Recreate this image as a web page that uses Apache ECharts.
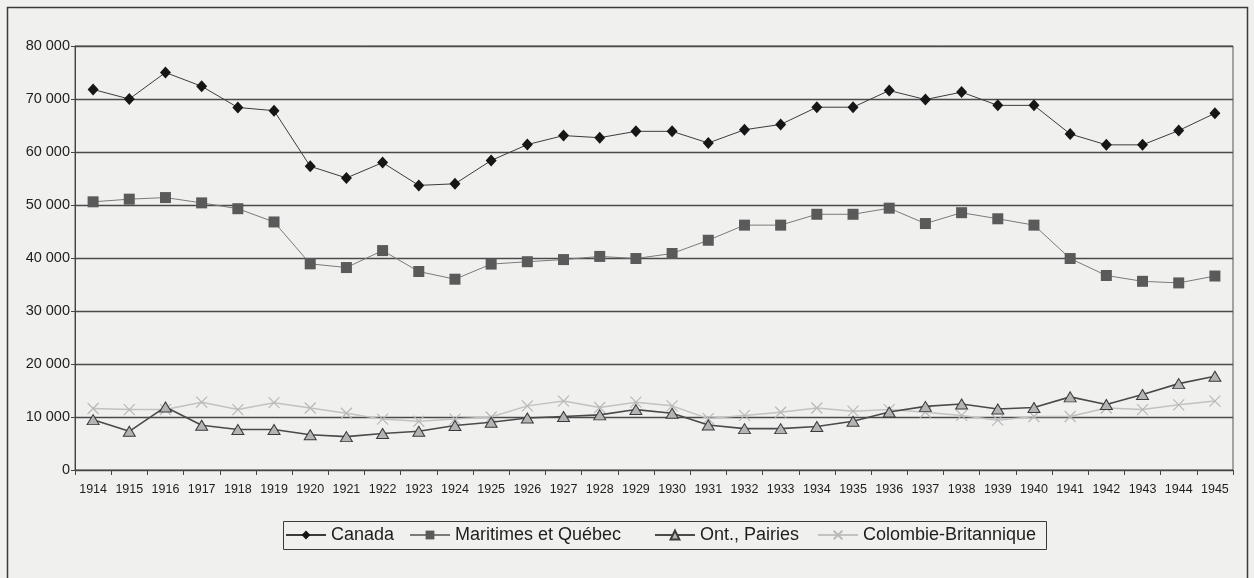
<!DOCTYPE html>
<html>
<head>
<meta charset="utf-8">
<script src="https://cdn.jsdelivr.net/npm/echarts@6/dist/echarts.min.js"></script>
<style>
  html, body { margin: 0; padding: 0; background: #f0f0ef; }
  #chart { width: 1254px; height: 578px; }
</style>
</head>
<body>
<div id="chart"></div>
<script>
// Years on the category axis
var years = ['1914','1915','1916','1917','1918','1919','1920','1921','1922','1923','1924',
             '1925','1926','1927','1928','1929','1930','1931','1932','1933','1934','1935',
             '1936','1937','1938','1939','1940','1941','1942','1943','1944','1945'];

// Series values, one per year
var canada = [71800, 70000, 75000, 72400, 68400, 67800, 57300, 55100, 58000, 53700, 54000,
              58400, 61400, 63100, 62700, 63900, 63900, 61700, 64200, 65200, 68450, 68450,
              71600, 69900, 71300, 68800, 68800, 63400, 61350, 61350, 64050, 67300];

var maritimes = [50600, 51100, 51400, 50400, 49300, 46800, 38900, 38200, 41400, 37450, 36000,
                 38850, 39300, 39700, 40300, 39900, 40850, 43350, 46200, 46200, 48250, 48250,
                 49400, 46500, 48550, 47400, 46200, 39900, 36700, 35600, 35300, 36600];

var ontario = [9500, 7300, 11900, 8450, 7650, 7650, 6650, 6300, 6900, 7300, 8400,
               9000, 9800, 10100, 10400, 11400, 10700, 8500, 7800, 7800, 8200, 9200,
               10950, 12000, 12450, 11500, 11800, 13800, 12350, 14250, 16300, 17700];

var colombie = [11600, 11400, 11400, 12800, 11400, 12700, 11700, 10700, 9600, 9200, 9600,
                10000, 12100, 13000, 11800, 12800, 12100, 9700, 10300, 10900, 11700, 11100,
                11400, 10900, 10300, 9400, 10100, 10100, 11700, 11400, 12300, 13000];

var seriesNames = ['Canada', 'Maritimes et Québec', 'Ont., Pairies', 'Colombie-Britannique'];

// y tick labels use a space as thousands separator
function fmt(v) {
  return String(v).replace(/\B(?=(\d{3})+(?!\d))/g, ' ');
}

var chart = echarts.init(document.getElementById('chart'), null, { renderer: 'canvas' });

var font = 'Liberation Sans, Arial, sans-serif';

// one legend entry per component so each entry sits at its own x position
var legendX = [285, 409, 654, 817];
var legends = seriesNames.map(function (name, i) {
  return {
    data: [name],
    left: legendX[i], top: 526,
    padding: 0,
    itemWidth: 40, itemHeight: 11, itemGap: 0,
    textStyle: { fontSize: 18, color: '#1e1e1e', fontFamily: font }
  };
});

chart.setOption({
  backgroundColor: '#f0f0ef',
  animation: false,
  textStyle: { fontFamily: font },
  graphic: [
    {
      type: 'rect',
      shape: { x: 7.5, y: 7.5, width: 1240, height: 620 },
      style: { fill: 'none', stroke: '#3a3a3a', lineWidth: 1.5 },
      silent: true
    },
    {
      type: 'rect',
      shape: { x: 283.5, y: 521.5, width: 763, height: 28 },
      style: { fill: 'none', stroke: '#3a3a3a', lineWidth: 1 },
      silent: true
    }
  ],
  grid: {
    left: 75, right: 21, top: 46, bottom: 108,
    show: true, borderColor: '#555', borderWidth: 1, backgroundColor: 'transparent'
  },
  legend: legends,
  xAxis: {
    type: 'category',
    data: years,
    boundaryGap: true,
    axisLine: { lineStyle: { color: '#444', width: 1 } },
    axisTick: { show: true, alignWithLabel: false, length: 5, lineStyle: { color: '#444' } },
    axisLabel: { color: '#1e1e1e', fontSize: 12.5, margin: 13, interval: 0, fontFamily: font },
    splitLine: { show: false }
  },
  yAxis: {
    type: 'value',
    min: 0, max: 80000, interval: 10000,
    axisLine: { show: true, lineStyle: { color: '#444', width: 1 } },
    axisTick: { show: true, length: 4, lineStyle: { color: '#444' } },
    axisLabel: { color: '#1e1e1e', fontSize: 14.5, margin: 5, formatter: fmt, fontFamily: font },
    splitLine: { lineStyle: { color: '#4a4a4a', width: 1.4 } }
  },
  series: [
    {
      name: seriesNames[0], type: 'line', data: canada,
      symbol: 'diamond', symbolSize: [11, 12],
      lineStyle: { color: '#3c3c3c', width: 1 },
      itemStyle: { color: '#161616' },
      z: 5
    },
    {
      name: seriesNames[1], type: 'line', data: maritimes,
      symbol: 'rect', symbolSize: 11,
      lineStyle: { color: '#7a7a7a', width: 1 },
      itemStyle: { color: '#5a5a5a' },
      z: 4
    },
    {
      name: seriesNames[2], type: 'line', data: ontario,
      symbol: 'triangle', symbolSize: [12, 10],
      lineStyle: { color: '#4a4a4a', width: 1.6 },
      itemStyle: { color: '#b4b4b4', borderColor: '#3a3a3a', borderWidth: 1 },
      z: 3
    },
    {
      name: seriesNames[3], type: 'line', data: colombie,
      symbol: 'path://M0,0L10,10M10,0L0,10', symbolSize: 11,
      lineStyle: { color: '#c2c2c2', width: 1.5 },
      itemStyle: { color: 'rgba(0,0,0,0)', borderColor: '#b8b8b8', borderWidth: 1.2 },
      z: 2
    }
  ]
});
</script>
</body>
</html>
